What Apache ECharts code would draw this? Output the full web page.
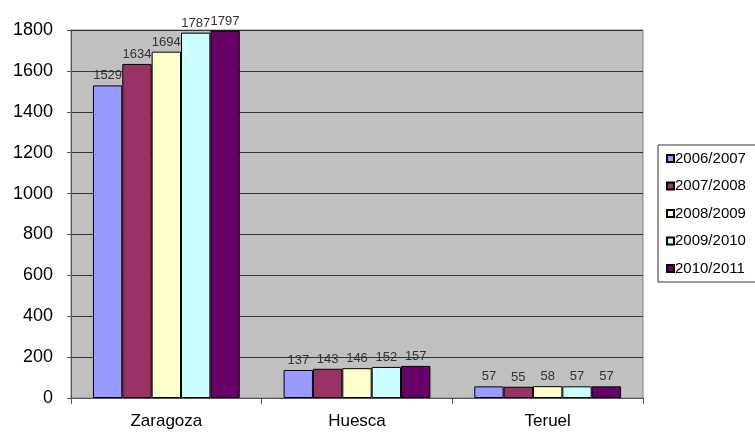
<!DOCTYPE html>
<html>
<head>
<meta charset="utf-8">
<script src="https://cdn.jsdelivr.net/npm/echarts@6/dist/echarts.min.js"></script>
<style>
html,body{margin:0;padding:0;background:#fff;}
#c{width:755px;height:436px;}
</style>
</head>
<body>
<div id="c"></div>
<script>
var categories = ['Zaragoza', 'Huesca', 'Teruel'];
var seriesNames = ['2006/2007', '2007/2008', '2008/2009', '2009/2010', '2010/2011'];
var s2006 = [1529, 137, 57];
var s2007 = [1634, 143, 55];
var s2008 = [1694, 146, 58];
var s2009 = [1787, 152, 57];
var s2010 = [1797, 157, 57];
var yTicks = [0, 200, 400, 600, 800, 1000, 1200, 1400, 1600, 1800];

var colors = ['#9999FF', '#993366', '#FFFFCC', '#CCFFFF', '#660066'];
var allData = [s2006, s2007, s2008, s2009, s2010];
var FONT = 'Liberation Sans, Arial, sans-serif';

var chart = echarts.init(document.getElementById('c'));
var series = seriesNames.map(function (n, i) {
  return {
    name: n,
    type: 'bar',
    data: allData[i],
    barGap: '0%',
    barCategoryGap: '23%',
    itemStyle: { color: colors[i], borderColor: '#000', borderWidth: 1 },
    label: {
      show: true, position: 'top', distance: 3,
      color: '#333', fontSize: 13, fontFamily: FONT
    }
  };
});

chart.setOption({
  animation: false,
  grid: {
    left: 71, right: 112, top: 30, bottom: 38,
    show: true, backgroundColor: '#C0C0C0', borderColor: '#808080', borderWidth: 1
  },
  legend: {
    orient: 'vertical',
    left: 658, top: 145,
    width: 97,
    padding: [6, 10, 6, 8],
    itemGap: 12.5,
    itemWidth: 7, itemHeight: 7,
    borderColor: '#333', borderWidth: 1,
    icon: 'rect',
    textStyle: { color: '#000', fontSize: 15, fontFamily: FONT, padding: [0, 0, 0, -4] },
    data: seriesNames
  },
  xAxis: {
    type: 'category',
    data: categories,
    axisLine: { lineStyle: { color: '#555', width: 1 } },
    axisTick: { show: true, length: 6, lineStyle: { color: '#555' } },
    axisLabel: { color: '#000', fontSize: 17, margin: 15, fontFamily: FONT }
  },
  yAxis: {
    type: 'value',
    min: yTicks[0], max: yTicks[yTicks.length - 1], interval: 200,
    axisLine: { show: true, lineStyle: { color: '#555' } },
    axisTick: { show: true, length: 4, lineStyle: { color: '#555' } },
    splitLine: { show: true, lineStyle: { color: '#333', width: 1 } },
    axisLabel: { color: '#000', fontSize: 18, margin: 18, fontFamily: FONT,
      formatter: function (v) { return String(v); } }
  },
  series: series
});
</script>
</body>
</html>
